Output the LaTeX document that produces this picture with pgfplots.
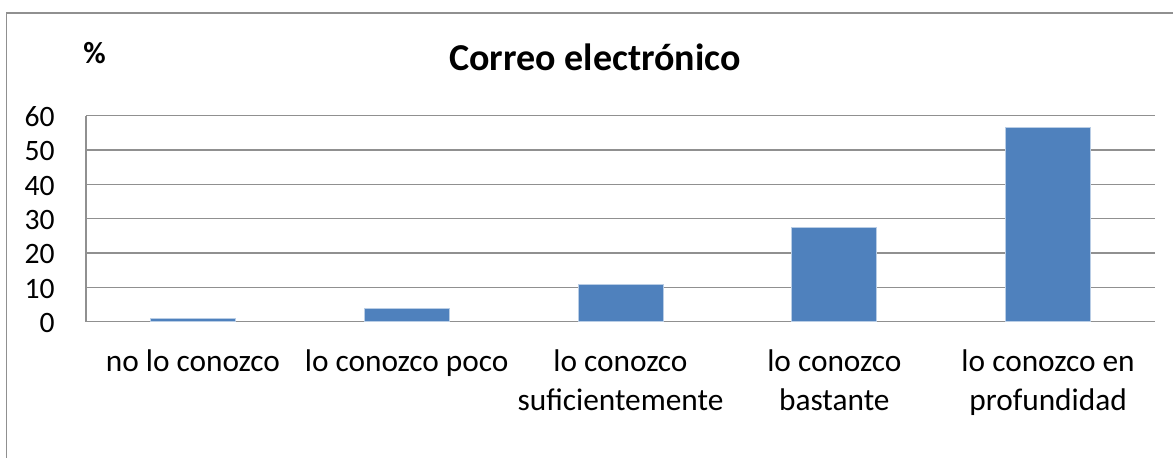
\documentclass[border=0pt]{standalone}
\usepackage{pgfplots}
\pgfplotsset{compat=1.18}
\usepackage{fontspec}
\setmainfont{Carlito}
\definecolor{barblue}{HTML}{4F81BD}
\definecolor{baredge}{HTML}{B9CDE5}
\definecolor{gridgray}{HTML}{909090}
\begin{document}
\begin{tikzpicture}[x=0.75pt,y=0.75pt]
\useasboundingbox (0,0) rectangle (1173,457);
\draw[gridgray, line width=1.2pt] (6.5,-20) -- (6.5,444) -- (1200,444);
\begin{axis}[
  at={(64.5pt,101.5pt)}, anchor=south west,
  scale only axis, width=801.75pt, height=154.5pt,
  xmin=-0.5, xmax=4.5, ymin=0, ymax=60,
  ytick={0,10,...,60},
  xtick={0,1,2,3,4},
  xticklabels={{no lo conozco\\\strut},{lo conozco poco\\\strut},{lo conozco\\suficientemente},{lo conozco\\bastante},{lo conozco en\\profundidad}},
  axis lines*=left,
  axis line style={gridgray, line width=1.1pt},
  major tick length=0pt,
  ymajorgrids,
  grid style={gridgray, line width=1.1pt},
  ybar, bar width=63.75pt, bar shift=0pt,
  /pgf/number format/assume math mode=true,
  yticklabel style={anchor=east, inner sep=0pt, xshift=-23.25pt, yshift=-1pt, font=\fontsize{22.2}{26}\selectfont},
  xticklabel style={anchor=base, inner sep=0pt, yshift=-66.8pt, align=center, font=\fontsize{23.5}{29.2}\selectfont},
]
\addplot[fill=barblue, draw=baredge, line width=0.6pt] coordinates {(0,1.0) (1,3.9) (2,10.8) (3,27.5) (4,56.7)};
\end{axis}
\node[anchor=base, inner sep=0pt, font=\bfseries\fontsize{28.5}{34}\selectfont] at (595,386) {Correo electrónico};
\node[anchor=base west, inner sep=0pt, font=\bfseries\fontsize{23}{27}\selectfont] at (83,393.7) {\%};
\end{tikzpicture}
\end{document}
